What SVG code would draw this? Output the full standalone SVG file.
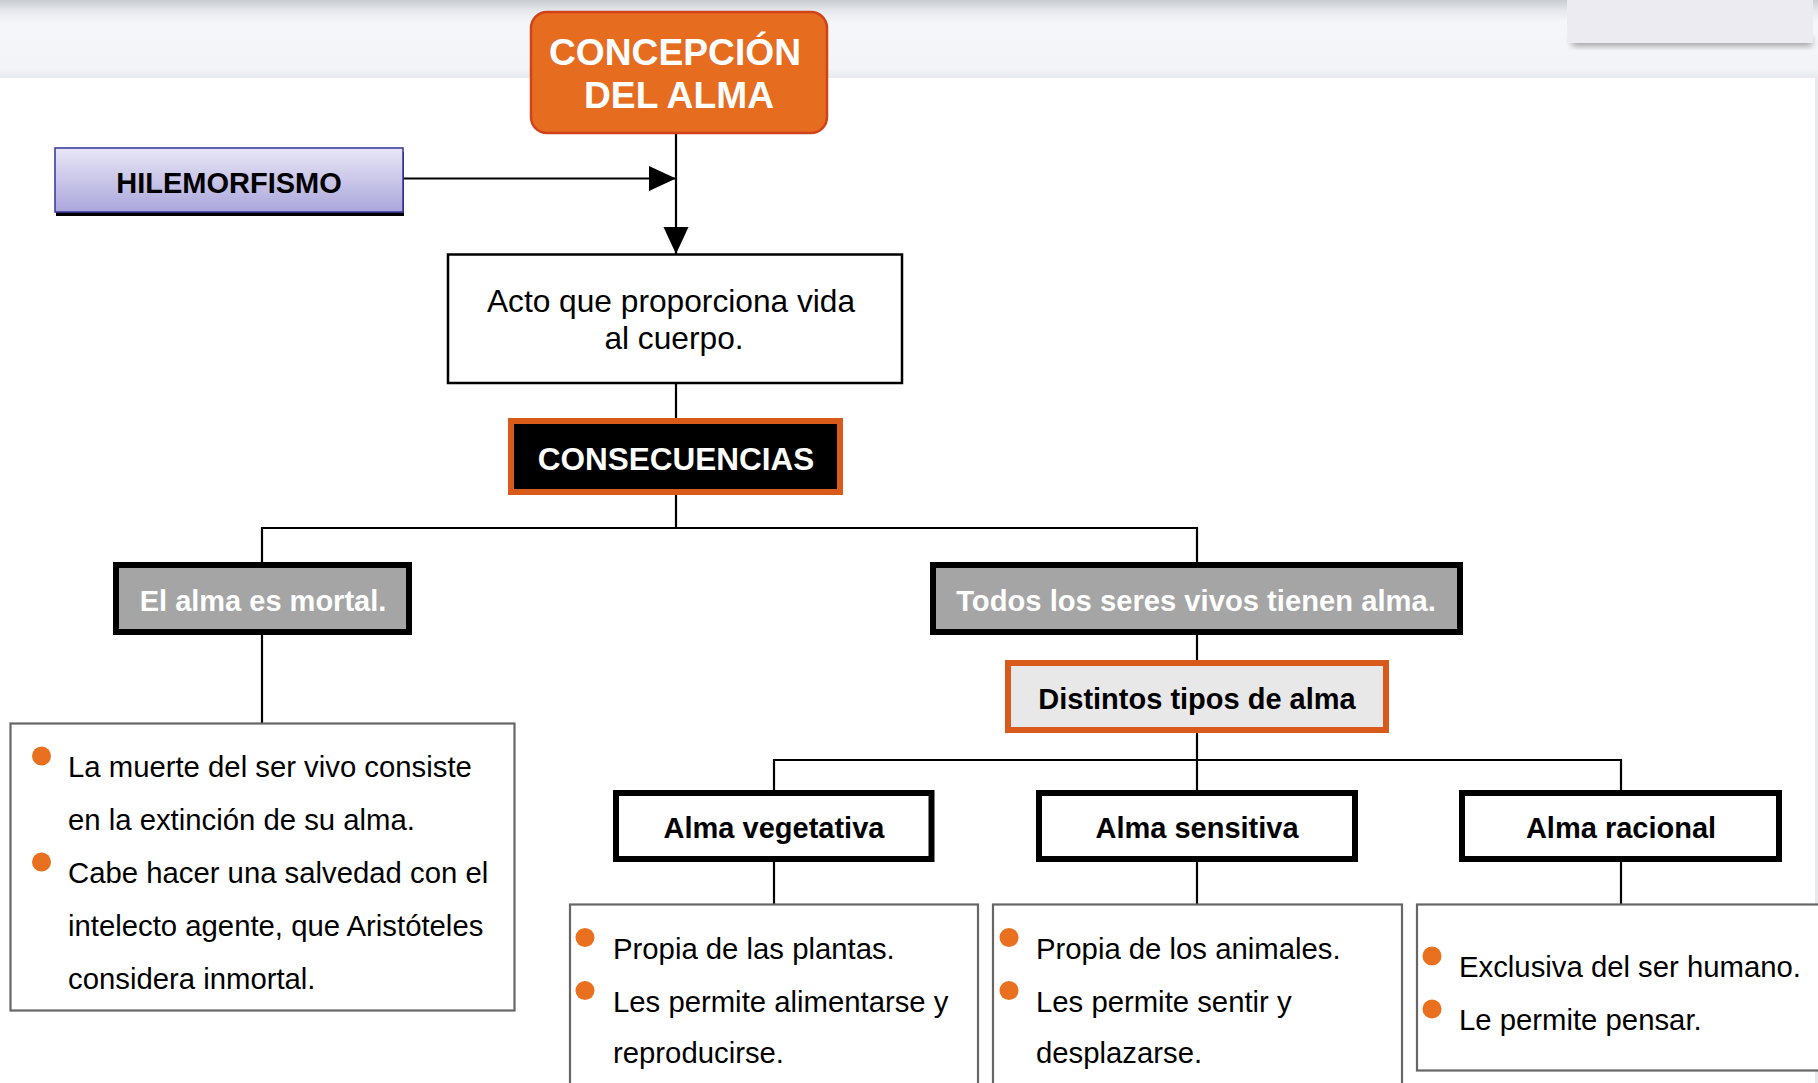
<svg xmlns="http://www.w3.org/2000/svg" width="1818" height="1083" viewBox="0 0 1818 1083">
  <defs>
    <linearGradient id="band" x1="0" y1="0" x2="0" y2="1">
      <stop offset="0" stop-color="#c9cdd2"/>
      <stop offset="0.14" stop-color="#e6e8ec"/>
      <stop offset="0.28" stop-color="#f5f6fa"/>
      <stop offset="0.88" stop-color="#f3f4f7"/>
      <stop offset="1" stop-color="#e6e9ed"/>
    </linearGradient>
    <linearGradient id="hile" x1="0" y1="0" x2="0" y2="1">
      <stop offset="0" stop-color="#e9e7f6"/>
      <stop offset="1" stop-color="#aaa6dc"/>
    </linearGradient>
    <filter id="blur" x="-10%" y="-50%" width="120%" height="200%">
      <feGaussianBlur stdDeviation="3"/>
    </filter>
    <marker id="arrow" markerUnits="userSpaceOnUse" markerWidth="28" markerHeight="26" refX="27" refY="12.5" orient="auto">
      <path d="M0,0 L27,12.5 L0,25 Z" fill="#000"/>
    </marker>
    <style>
      .conn { stroke: #000; stroke-width: 2.2; fill: none; }
      .bold { font-family: "Liberation Sans", Arial, sans-serif; font-weight: bold; }
      .reg { font-family: "Liberation Sans", Arial, sans-serif; font-size: 29.3px; fill: #000; }
      .graybox { fill: #a5a5a5; stroke: #000; stroke-width: 6; }
      .orangebox { stroke: #d95b1b; stroke-width: 6; }
      .almabox { fill: #fff; stroke: #000; stroke-width: 6; }
      .detail { fill: #fff; stroke: #666; stroke-width: 2.2; }
      .bullet { fill: #e8701e; }
      .white { fill: #fff; }
    </style>
  </defs>

  <!-- background -->
  <rect x="0" y="0" width="1818" height="1083" fill="#fff"/>
  <rect x="0" y="0" width="1818" height="78" fill="url(#band)"/>
  <rect x="1815" y="77" width="3" height="1006" fill="#e8eaee"/>
  <rect x="1572" y="38" width="240" height="8" fill="#666" opacity="0.6" filter="url(#blur)"/>
  <rect x="1567" y="-2" width="246" height="45" fill="#ecebf2"/>

  <!-- connectors -->
  <g id="connectors">
    <line class="conn" x1="676" y1="133" x2="676" y2="254" marker-end="url(#arrow)"/>
    <line class="conn" x1="403" y1="178.5" x2="676" y2="178.5" marker-end="url(#arrow)"/>
    <line class="conn" x1="676" y1="383" x2="676" y2="418"/>
    <polyline class="conn" points="676,495 676,528"/>
    <polyline class="conn" points="262,562 262,528 1197,528 1197,562"/>
    <line class="conn" x1="262" y1="635" x2="262" y2="723"/>
    <line class="conn" x1="1197" y1="635" x2="1197" y2="660"/>
    <line class="conn" x1="1197" y1="733" x2="1197" y2="790"/>
    <polyline class="conn" points="774,790 774,760 1621,760 1621,790"/>
    <line class="conn" x1="774" y1="862" x2="774" y2="904"/>
    <line class="conn" x1="1197" y1="862" x2="1197" y2="904"/>
    <line class="conn" x1="1621" y1="862" x2="1621" y2="904"/>
  </g>

  <g id="concepcion">
    <rect x="531" y="12" width="296" height="121" rx="16" fill="#e66c1f" stroke="#d0431a" stroke-width="2.5"/>
    <text class="bold white" font-size="37.2" text-anchor="middle" x="675" y="65">CONCEPCIÓN</text>
    <text class="bold white" font-size="37.2" text-anchor="middle" x="679" y="108">DEL ALMA</text>
  </g>

  <g id="hilemorfismo">
    <rect x="56" y="152" width="348" height="64" fill="#000"/>
    <rect x="55" y="148" width="348" height="64" fill="url(#hile)" stroke="#3b3fa0" stroke-width="1.6"/>
    <text class="bold" font-size="29" text-anchor="middle" x="229" y="193" fill="#000">HILEMORFISMO</text>
  </g>

  <g id="acto">
    <rect x="448" y="254.5" width="454" height="128.5" fill="#fff" stroke="#000" stroke-width="2.5"/>
    <text class="reg" text-anchor="middle" x="671" y="312" style="font-size:31.7px">Acto que proporciona vida</text>
    <text class="reg" text-anchor="middle" x="674" y="349" style="font-size:31.7px">al cuerpo.</text>
  </g>

  <g id="consecuencias">
    <rect class="orangebox" x="511" y="421" width="329" height="71" fill="#000"/>
    <text class="bold white" font-size="31.5" text-anchor="middle" x="676" y="470">CONSECUENCIAS</text>
  </g>

  <g id="mortal">
    <rect class="graybox" x="116" y="565" width="293" height="67"/>
    <text class="bold white" font-size="29" text-anchor="middle" x="263" y="611">El alma es mortal.</text>
  </g>

  <g id="todos">
    <rect class="graybox" x="933" y="565" width="527" height="67"/>
    <text class="bold white" font-size="29.2" text-anchor="middle" x="1196" y="611">Todos los seres vivos tienen alma.</text>
  </g>

  <g id="distintos">
    <rect class="orangebox" x="1008" y="663" width="378" height="67" fill="#e8e8e8"/>
    <text class="bold" font-size="29" text-anchor="middle" x="1197" y="709" fill="#000">Distintos tipos de alma</text>
  </g>

  <g id="vegetativa">
    <rect class="almabox" x="616" y="793" width="315.5" height="66"/>
    <text class="bold" font-size="29" text-anchor="middle" x="774" y="838" fill="#000">Alma vegetativa</text>
  </g>

  <g id="sensitiva">
    <rect class="almabox" x="1039" y="793" width="316" height="66"/>
    <text class="bold" font-size="29" text-anchor="middle" x="1197" y="838" fill="#000">Alma sensitiva</text>
  </g>

  <g id="racional">
    <rect class="almabox" x="1462" y="793" width="317" height="66"/>
    <text class="bold" font-size="29" text-anchor="middle" x="1621" y="838" fill="#000">Alma racional</text>
  </g>

  <g id="mortal-detail">
    <rect class="detail" x="10.5" y="723.5" width="504" height="287"/>
    <circle class="bullet" cx="41.5" cy="756" r="9.5"/>
    <circle class="bullet" cx="41.5" cy="862" r="9.5"/>
    <text class="reg" x="68" y="777">La muerte del ser vivo consiste</text>
    <text class="reg" x="68" y="830">en la extinción de su alma.</text>
    <text class="reg" x="68" y="883">Cabe hacer una salvedad con el</text>
    <text class="reg" x="68" y="936">intelecto agente, que Aristóteles</text>
    <text class="reg" x="68" y="989">considera inmortal.</text>
  </g>

  <g id="vegetativa-detail">
    <rect class="detail" x="570" y="904.5" width="408" height="200"/>
    <circle class="bullet" cx="585" cy="937.5" r="9.5"/>
    <circle class="bullet" cx="585" cy="990.5" r="9.5"/>
    <text class="reg" x="613" y="959">Propia de las plantas.</text>
    <text class="reg" x="613" y="1012">Les permite alimentarse y</text>
    <text class="reg" x="613" y="1063">reproducirse.</text>
  </g>

  <g id="sensitiva-detail">
    <rect class="detail" x="993" y="904.5" width="409" height="200"/>
    <circle class="bullet" cx="1009" cy="937.5" r="9.5"/>
    <circle class="bullet" cx="1009" cy="990.5" r="9.5"/>
    <text class="reg" x="1036" y="959">Propia de los animales.</text>
    <text class="reg" x="1036" y="1012">Les permite sentir y</text>
    <text class="reg" x="1036" y="1063">desplazarse.</text>
  </g>

  <g id="racional-detail">
    <rect class="detail" x="1417" y="904.5" width="420" height="166"/>
    <circle class="bullet" cx="1432" cy="956" r="9.5"/>
    <circle class="bullet" cx="1432" cy="1009" r="9.5"/>
    <text class="reg" x="1459" y="977">Exclusiva del ser humano.</text>
    <text class="reg" x="1459" y="1030">Le permite pensar.</text>
  </g>
</svg>
